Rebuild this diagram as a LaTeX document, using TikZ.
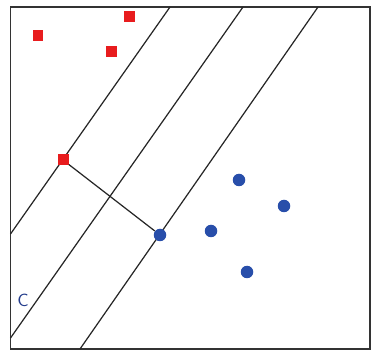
\documentclass[tikz,border=0pt]{standalone}
\usepackage{tikz}
\usetikzlibrary{positioning}
\definecolor{sqred}{RGB}{232,28,30}
\definecolor{dotblue}{RGB}{40,78,170}
\definecolor{labblue}{RGB}{35,60,140}

\begin{document}
\begin{tikzpicture}[x=0.02cm, y=-0.02cm,
  redsq/.style={rectangle, fill=sqred, minimum size=0.22cm, inner sep=0pt},
  bluedot/.style={circle, fill=dotblue, minimum size=0.25cm, inner sep=0pt},
  plane/.style={line width=0.7pt, black!85}]
\useasboundingbox (0,0) rectangle (371,350);
% frame
\draw[line width=1pt, black!80] (10.5,7) rectangle (370,349);
% margin and separating lines
\coordinate (t1) at (170,7);   \coordinate (e1) at (10.5,234);
\coordinate (t2) at (243,7);   \coordinate (e2) at (10.5,338);
\coordinate (t3) at (318,7);   \coordinate (e3) at (80,349);
\foreach \i in {1,2,3}{
  \draw[plane] (t\i) -- (e\i);
}
% class one: squares
\foreach \n/\x/\y in {r1/38/36, r2/129/17, r3/111/52, r4/63/160}{
  \node[redsq] (\n) at (\x,\y) {};
}
% class two: dots
\foreach \n/\x/\y in {b1/160/235, b2/239/180, b3/284/206, b4/211/231, b5/247/272}{
  \node[bluedot] (\n) at (\x,\y) {};
}
% margin width
\draw[plane] (r4) -- (b1);
\node[font=\sffamily, text=labblue] (lab) at (23,300) {C};
\end{tikzpicture}
\end{document}
